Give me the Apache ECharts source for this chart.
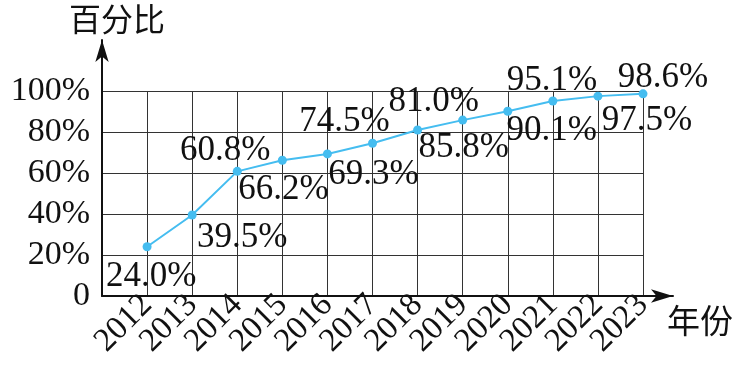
<!DOCTYPE html>
<html><head><meta charset="utf-8">
<script src="https://cdn.jsdelivr.net/npm/echarts@6/dist/echarts.min.js"></script>
<style>html,body{margin:0;padding:0;background:#fff}#c{width:745px;height:376px}</style>
</head><body><div id="c"></div>
<script>
const years = ['2012','2013','2014','2015','2016','2017','2018','2019','2020','2021','2022','2023'];
const values = [24.0,39.5,60.8,66.2,69.3,74.5,81.0,85.8,90.1,95.1,97.5,98.6];
const yTicks = ['0','20%','40%','60%','80%','100%'];
const labelOffsets = [[4,30],[50,23],[-12,-21],[1,30],[46,21],[-28,-21],[16,-28],[1,28],[44,20],[-1,-20],[49,25],[20,-16]];

const serif = '"Liberation Serif","DejaVu Serif",serif';
const chart = echarts.init(document.getElementById('c'));
const cats = [''].concat(years);
const data = years.map((y,i)=>({
  value:[y, values[i]],
  label:{offset:labelOffsets[i]}
}));
chart.setOption({
  animation:false,
  grid:[
    {left:102,right:102,top:91,bottom:80},
    {left:102,right:72,top:40,bottom:80}
  ],
  xAxis:[
    {gridIndex:0,type:'category',data:cats,boundaryGap:false,
     axisLine:{show:false},axisTick:{show:false},
     splitLine:{show:true,interval:0,lineStyle:{color:'#333',width:1}},
     axisLabel:{interval:0,rotate:45,fontFamily:serif,fontSize:33,color:'#111',margin:4,hideOverlap:false}},
    {gridIndex:1,type:'value',min:0,max:1,
     axisLine:{show:true,symbol:['none','arrow'],symbolSize:[10,22],lineStyle:{color:'#111',width:2}},
     axisTick:{show:false},axisLabel:{show:false},splitLine:{show:false},
     name:'年份',nameLocation:'end',nameGap:-6,
     nameTextStyle:{fontFamily:'"Noto Sans CJK SC"',fontSize:33,color:'#111',verticalAlign:'top',padding:[8,0,0,0]}}
  ],
  yAxis:[
    {gridIndex:0,type:'value',min:0,max:100,interval:20,
     axisLine:{show:false},axisTick:{show:false},
     splitLine:{show:true,lineStyle:{color:'#333',width:1}},
     axisLabel:{fontFamily:serif,fontSize:34,color:'#111',margin:12,
       formatter:v=>yTicks[v/20]}},
    {gridIndex:1,type:'value',min:0,max:1,
     axisLine:{show:true,symbol:['none','arrow'],symbolSize:[10,22],lineStyle:{color:'#111',width:2}},
     axisTick:{show:false},axisLabel:{show:false},splitLine:{show:false},
     name:'百分比',nameLocation:'end',nameGap:5,
     nameTextStyle:{fontFamily:'"Noto Sans CJK SC"',fontSize:32,color:'#111',align:'center',padding:[0,0,0,30]}}
  ],
  series:[{
    type:'line',xAxisIndex:0,yAxisIndex:0,data:data,
    lineStyle:{color:'#45bdf0',width:2},
    itemStyle:{color:'#45bdf0'},
    symbol:'circle',symbolSize:9,
    label:{show:true,position:'inside',align:'center',verticalAlign:'middle',
      fontFamily:serif,fontSize:35,color:'#111',
      formatter:p=>p.value[1].toFixed(1)+'%'},
    z:5
  }]
});
</script></body></html>
